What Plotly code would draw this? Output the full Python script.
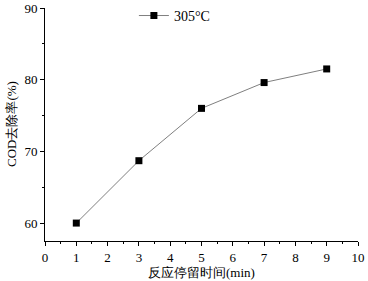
import plotly.graph_objects as go

x_vals = [1, 3, 5, 7, 9]
cod_removal = [60.0, 68.7, 76.0, 79.6, 81.5]
series_name = "305°C"
x_ticks = [0, 1, 2, 3, 4, 5, 6, 7, 8, 9, 10]
y_ticks = [60, 70, 80, 90]

fig = go.Figure()
fig.add_trace(go.Scatter(
    x=x_vals, y=cod_removal, mode="lines+markers", name=series_name,
    line=dict(color="#7f7f7f", width=1),
    marker=dict(symbol="square", size=7, color="black"),
))

font = dict(family="Liberation Serif, Times New Roman, serif", size=14, color="black")
fig.update_layout(
    width=368, height=281,
    margin=dict(l=45, r=10, t=8, b=40, autoexpand=False),
    paper_bgcolor="white", plot_bgcolor="white",
    font=font,
    showlegend=True,
    legend=dict(x=0.284, y=0.966, xanchor="left", yanchor="middle", bgcolor="rgba(0,0,0,0)",
                font=dict(size=14), itemwidth=30, tracegroupgap=0),
    annotations=[
        dict(text="反应停留时间(min)", xref="paper", yref="paper", x=0.5, y=-0.137,
             xanchor="center", yanchor="middle", showarrow=False, font=dict(size=13)),
        dict(text="COD去除率(%)", xref="paper", yref="paper", x=-0.107, y=0.5,
             xanchor="center", yanchor="middle", showarrow=False, textangle=-90,
             font=dict(size=13)),
    ],
)
fig.update_xaxes(
    range=[0, 10], tickvals=x_ticks, showline=True, linecolor="black", linewidth=1,
    ticks="outside", ticklen=4, tickcolor="black", showgrid=False, zeroline=False,
    automargin=False, ticklabelstandoff=0, tickfont=dict(size=13),
    minor=dict(dtick=0.5, ticks="outside", ticklen=2, tickcolor="black"),
)
fig.update_yaxes(
    range=[57.5, 90], tickvals=y_ticks, showline=True, linecolor="black", linewidth=1,
    ticks="outside", ticklen=4, tickcolor="black", showgrid=False, zeroline=False,
    automargin=False, tickfont=dict(size=13),
    minor=dict(tickvals=[65, 75, 85], ticks="outside", ticklen=2, tickcolor="black"),
)
fig.write_html("out.html", config={"displayModeBar": False},
               post_script="document.body.style.margin='0';")
